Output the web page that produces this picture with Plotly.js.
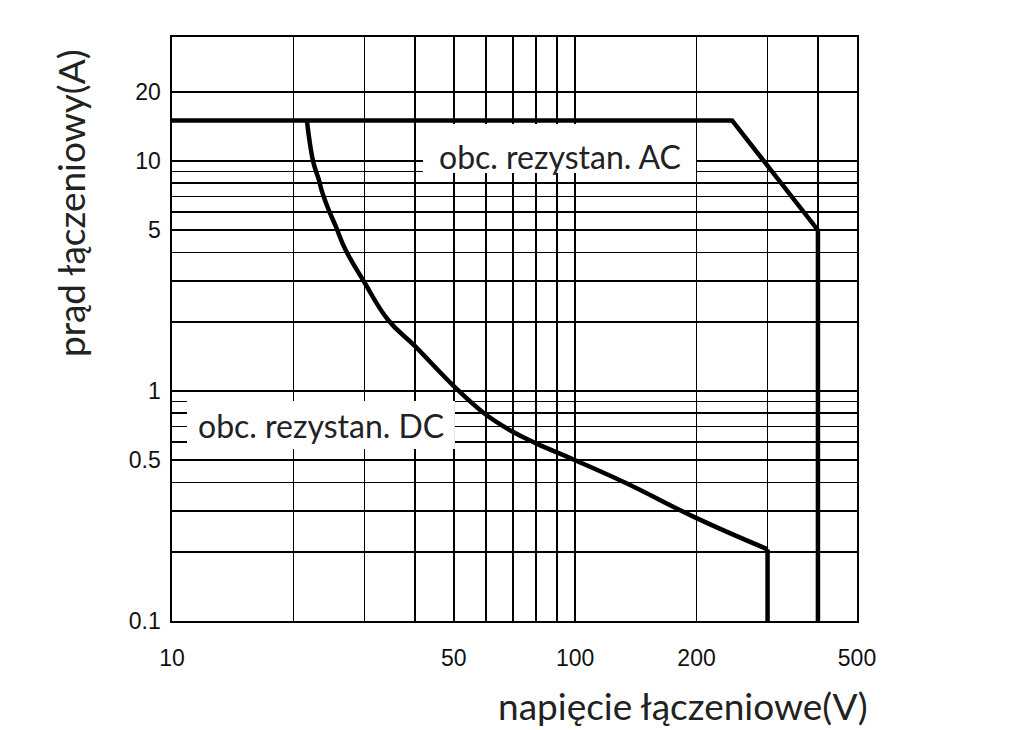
<!DOCTYPE html>
<html>
<head>
<meta charset="utf-8">
<script src="https://cdn.plot.ly/plotly-3.0.1.min.js"></script>
<style>html,body{margin:0;padding:0;background:#fff;}#chart{width:1024px;height:730px;}</style>
</head>
<body>
<div id="chart"></div>
<script>
// Data
const acVoltage = [10, 245, 400, 400];
const acCurrent = [15, 15, 5, 0.1];

const dcVoltage = [21.6, 22.4, 23.1, 23.6, 24.4, 25.5, 26.9, 29.9, 34.4, 40, 50, 60, 70, 80, 100, 134, 200, 300];
const dcCurrent = [15, 9.93, 8.35, 7.28, 6.2, 5.18, 4.13, 3.0, 2.03, 1.57, 1.05, 0.79, 0.665, 0.592, 0.5, 0.397, 0.28, 0.205];
const floorCurrent = 0.1;

const xGridVals = [10, 20, 30, 40, 50, 60, 70, 80, 90, 100, 200, 300, 400, 500];
const xLabelVals = [10, 50, 100, 200, 500];
const yGridVals = [0.1, 0.2, 0.3, 0.4, 0.5, 0.6, 0.7, 0.8, 0.9, 1, 2, 3, 4, 5, 6, 7, 8, 9, 10, 20];
const yLabelVals = [0.1, 0.5, 1, 5, 10, 20];

const labelAC = 'obc. rezystan. AC';
const labelDC = 'obc. rezystan. DC';
const xTitle = 'napięcie łączeniowe(V)';
const yTitle = 'prąd łączeniowy(A)';

const lbl = (vals, shown) => vals.map(v => shown.includes(v) ? String(v) : '');

const lineStyle = {color: '#000', width: 4.5};
const lastV = dcVoltage[dcVoltage.length - 1];
const lastI = dcCurrent[dcCurrent.length - 1];
const traces = [
  {x: acVoltage, y: acCurrent, mode: 'lines', line: lineStyle, hoverinfo: 'skip', showlegend: false},
  {x: dcVoltage, y: dcCurrent, mode: 'lines', line: Object.assign({shape: 'spline', smoothing: 1.2}, lineStyle), hoverinfo: 'skip', showlegend: false},
  {x: [lastV, lastV], y: [lastI, floorCurrent], mode: 'lines', line: lineStyle, hoverinfo: 'skip', showlegend: false}
];

const titleFont = {family: 'Lato, "Noto Sans", sans-serif', size: 37, color: '#222'};
const boxFont = {family: 'Lato, "Noto Sans", sans-serif', size: 32, color: '#222'};
const tickFont = {family: '"Liberation Sans", Arial, sans-serif', size: 23, color: '#111'};

const layout = {
  width: 1024, height: 730,
  margin: {l: 172, r: 167, t: 37, b: 109},
  paper_bgcolor: '#fff', plot_bgcolor: '#fff',
  showlegend: false,
  xaxis: {
    type: 'log', range: [1, Math.log10(500)],
    tickmode: 'array', tickvals: xGridVals, ticktext: lbl(xGridVals, xLabelVals),
    showgrid: true, gridcolor: '#000', gridwidth: 1.6,
    showline: true, linecolor: '#000', linewidth: 1.6, mirror: true,
    ticks: '', ticklabelstandoff: 16, tickfont: tickFont, zeroline: false, fixedrange: true
  },
  yaxis: {
    type: 'log', range: [-1, 1.539],
    tickmode: 'array', tickvals: yGridVals, ticktext: lbl(yGridVals, yLabelVals),
    showgrid: true, gridcolor: '#000', gridwidth: 1.6,
    showline: true, linecolor: '#000', linewidth: 1.6, mirror: true,
    ticks: '', ticklabelstandoff: 5, tickfont: tickFont, zeroline: false, fixedrange: true
  },
  shapes: [
    {type: 'rect', xref: 'paper', yref: 'paper', x0: 0.3664, x1: 0.765, y0: 0.767, y1: 0.851,
     fillcolor: '#fff', line: {width: 0}, layer: 'above'},
    {type: 'rect', xref: 'paper', yref: 'paper', x0: 0.0219, x1: 0.413, y0: 0.2945, y1: 0.3767,
     fillcolor: '#fff', line: {width: 0}, layer: 'above'}
  ],
  annotations: [
    {text: labelAC, xref: 'paper', yref: 'paper', x: 0.5657, y: 0.795, xanchor: 'center', yanchor: 'middle',
     showarrow: false, font: boxFont},
    {text: labelDC, xref: 'paper', yref: 'paper', x: 0.218, y: 0.335, xanchor: 'center', yanchor: 'middle',
     showarrow: false, font: boxFont},
    {text: xTitle, xref: 'paper', yref: 'paper', x: (683 - 172) / 685, y: -(705 - 621) / 584,
     xanchor: 'center', yanchor: 'middle', showarrow: false, font: titleFont},
    {text: yTitle, xref: 'paper', yref: 'paper', x: -(172 - 70) / 685, y: (621 - 203) / 584,
     xanchor: 'center', yanchor: 'middle', textangle: -90, showarrow: false, font: titleFont}
  ]
};

Plotly.newPlot('chart', traces, layout, {staticPlot: true, displayModeBar: false});
</script>
</body>
</html>
